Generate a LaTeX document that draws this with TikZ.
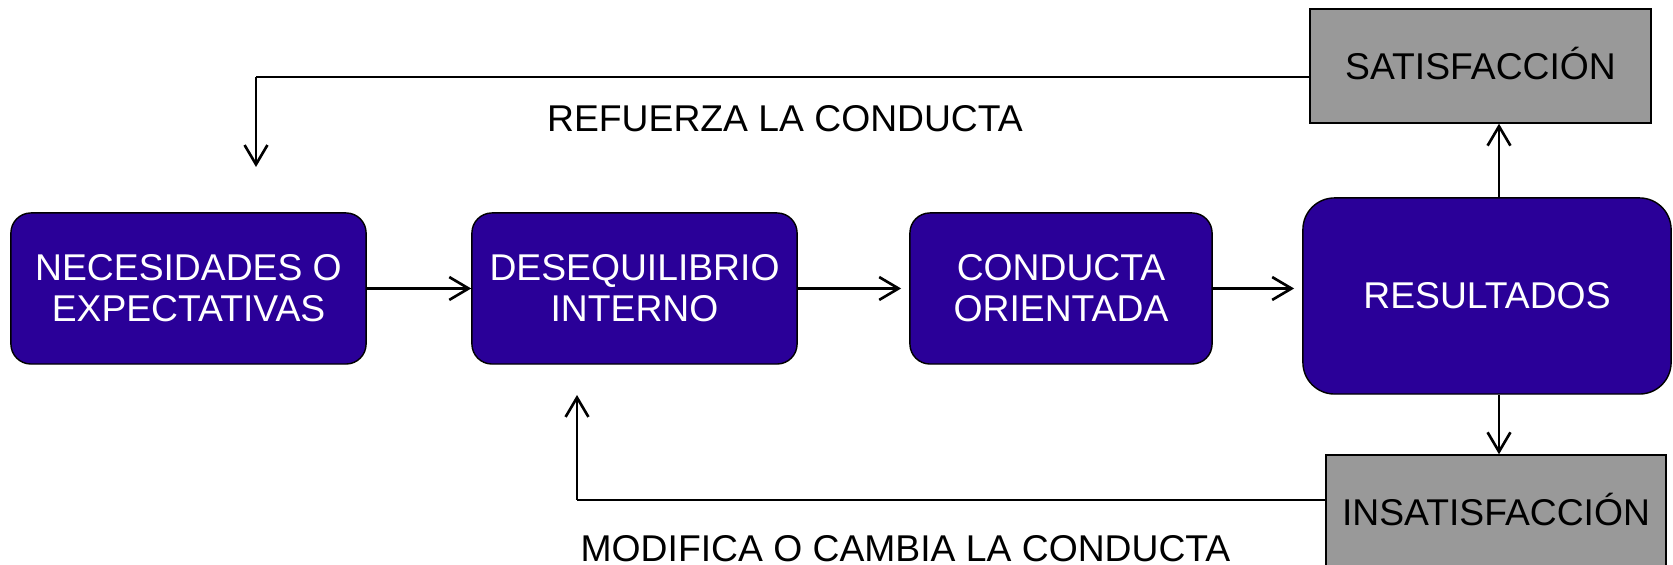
\documentclass[tikz,border=0pt]{standalone}
\usepackage{fontspec}
\setmainfont{Liberation Sans}
\usetikzlibrary{arrows.meta}
\definecolor{boxblue}{RGB}{42,0,152}
\definecolor{boxgray}{RGB}{153,153,153}
\newcommand{\diafont}{\fontsize{10.6pt}{11.7pt}\selectfont}
\begin{document}
\begin{tikzpicture}[x=0.01cm,y=-0.01cm,
  bluebox/.style={draw=black,line width=0.4pt,fill=boxblue,text=white,rounded corners=5.7pt,
    align=center,inner sep=0pt,font=\diafont},
  graybox/.style={draw=black,line width=0.4pt,fill=boxgray,text=black,inner sep=0pt,
    font=\diafont,text height=7.6pt,text depth=0pt},
  flow/.style={line width=0.75pt,-{Straight Barb[length=5.5pt,width=6.5pt]}},
  thinline/.style={line width=0.35pt},
  lbl/.style={font=\diafont,anchor=base,inner sep=0pt}]
\useasboundingbox (0,0) rectangle (1673,565);
\fill[white] (0,0) rectangle (1673,565);
% main boxes
\node[bluebox,minimum width=3.55cm,minimum height=1.51cm] (nec) at (188.5,288.5) {NECESIDADES O\\EXPECTATIVAS};
\node[bluebox,minimum width=3.25cm,minimum height=1.51cm] (des) at (634.5,288.5) {DESEQUILIBRIO\\INTERNO};
\node[bluebox,minimum width=3.02cm,minimum height=1.51cm] (cond) at (1061,288.5) {CONDUCTA\\ORIENTADA};
\node[bluebox,rounded corners=9pt,minimum width=3.68cm,minimum height=1.96cm] (res) at (1487,296) {RESULTADOS};
\node[graybox,minimum width=3.41cm,minimum height=1.14cm] (sat) at (1480.5,66) {SATISFACCIÓN};
\node[graybox,minimum width=3.40cm,minimum height=1.15cm] (insat) at (1496,512.5) {INSATISFACCIÓN};
% labels
\node[lbl] (refuerza) at (785,132) {REFUERZA LA CONDUCTA};
\node[lbl] (modifica) at (905.5,562) {MODIFICA O CAMBIA LA CONDUCTA};
% forward arrows
\draw[flow] (nec) -- (des);
\draw[flow,shorten >=2.3pt] (des) -- (cond);
\draw[flow,shorten >=2.3pt] (cond.east) -- (cond.east -| res.west);
\coordinate (rx) at (1499,0);
\draw[flow] (res.north -| rx) -- (sat.south -| rx);
\draw[flow] (res.south -| rx) -- (insat.north -| rx);
% feedback loops
\coordinate (topc) at (256,77);
\coordinate (topend) at (256,167);
\draw[thinline] (sat.west |- topc) -- (topc);
\draw[flow] (topc) -- (topend);
\coordinate (botc) at (577,500);
\coordinate (botend) at (577,395);
\draw[thinline] (insat.west |- botc) -- (botc);
\draw[flow] (botc) -- (botend);
\end{tikzpicture}
\end{document}
